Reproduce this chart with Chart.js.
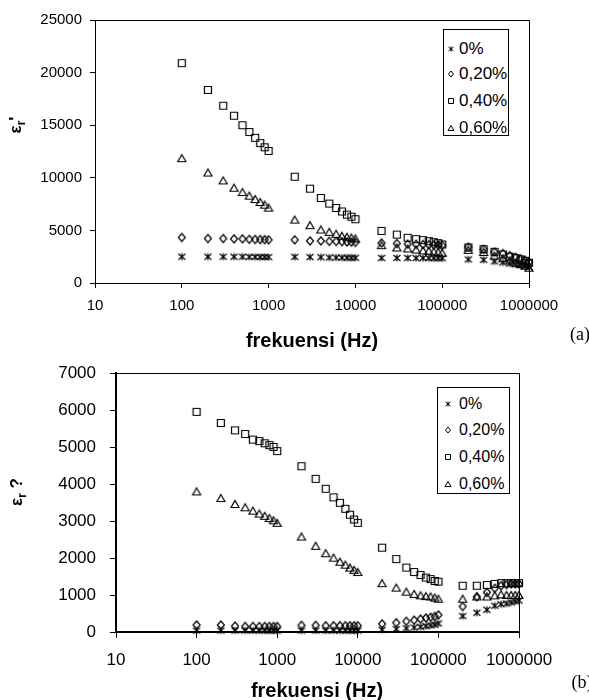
<!DOCTYPE html>
<html><head><meta charset="utf-8">
<script src="https://cdn.jsdelivr.net/npm/chart.js@4.4.1/dist/chart.umd.min.js"></script>
<style>
html,body{margin:0;padding:0;background:#fff;}
body{width:589px;height:700px;position:relative;overflow:hidden;font-family:"Liberation Sans",Arial,sans-serif;color:#000;}
canvas{position:absolute;left:0;}
#ca{top:0;}
#cb{top:350px;}
.t{position:absolute;white-space:nowrap;transform:translate(-50%,-50%);}
.xt{font-weight:bold;font-size:20px;}
.yt{font-weight:bold;font-size:17px;transform:translate(-50%,-50%) rotate(-90deg);}
.tag{font-family:"Liberation Serif","Times New Roman",serif;font-size:18px;}
.leg{position:absolute;border:1px solid #000;background:#fff;box-sizing:border-box;}
.row{position:absolute;left:0;}
</style>
</head><body>
<canvas id="ca" width="589" height="350"></canvas>
<canvas id="cb" width="589" height="350"></canvas>
<div class="t yt" style="left:17px;top:125px">ε<sub style="font-size:12px">r</sub>'</div>
<div class="t yt" style="left:18px;top:492px">ε<sub style="font-size:12px">r</sub> ?</div>
<div class="t xt" style="left:312px;top:340px">frekuensi (Hz)</div>
<div class="t xt" style="left:317px;top:690px">frekuensi (Hz)</div>
<div class="t tag" style="left:580px;top:334px">(a)</div>
<div class="t tag" style="left:582px;top:682px">(b)</div>
<div class="leg" id="la" style="left:443px;top:29px;width:66px;height:107px"></div>
<div class="leg" id="lb" style="left:437px;top:387px;width:73px;height:107px"></div>
<script>
// ---- data ----
const freq = [100,200,300,400,500,600,700,800,900,1000,
  2000,3000,4000,5000,6000,7000,8000,9000,10000,
  20000,30000,40000,50000,60000,70000,80000,90000,100000,
  200000,300000,400000,500000,600000,700000,800000,900000,1000000];
const seriesNames = ['0%','0,20%','0,40%','0,60%'];
const xTicks = [10,100,1000,10000,100000,1000000];
const yTicksA = [0,5000,10000,15000,20000,25000];
const yTicksB = [0,1000,2000,3000,4000,5000,6000,7000];

// (a) epsilon_r'
const a_0 = [2500,2500,2500,2500,2500,2480,2480,2470,2470,2460,
  2480,2460,2450,2420,2420,2410,2410,2400,2400,
  2380,2380,2380,2370,2370,2370,2360,2360,2350,
  2240,2200,2050,1950,1850,1780,1700,1600,1500];
const a_20 = [4330,4230,4230,4200,4200,4150,4140,4130,4120,4110,
  4100,4000,4000,3960,3950,3930,3900,3880,3860,
  3800,3760,3700,3680,3660,3640,3620,3600,3580,
  3420,3200,2950,2800,2600,2450,2300,2150,2000];
const a_40 = [20900,18350,16850,15900,15000,14350,13800,13300,12900,12550,
  10100,8970,8080,7550,7130,6800,6500,6300,6060,
  4950,4600,4300,4170,4070,3980,3880,3790,3660,
  3380,3220,2970,2720,2500,2370,2240,2110,1920];
const a_60 = [11870,10500,9750,9060,8650,8300,7980,7700,7450,7170,
  6030,5500,5080,4860,4670,4480,4390,4320,4230,
  3600,3380,3280,3190,3100,3060,3000,2940,2870,
  3150,2950,2600,2350,2150,1950,1800,1650,1450];

// (b) epsilon_r''
const b_0 = [40,40,40,40,40,40,40,40,40,40,
  40,40,40,40,40,40,40,40,40,
  60,80,100,120,140,160,180,200,230,
  430,520,600,710,750,770,800,830,850];
const b_20 = [190,190,160,150,150,150,150,150,150,150,
  180,180,170,170,170,170,170,170,170,
  220,250,290,320,350,380,400,420,460,
  690,950,1070,1180,1250,1280,1300,1300,1300];
const b_40 = [5950,5650,5450,5350,5200,5160,5100,5050,5000,4890,
  4480,4140,3870,3640,3490,3330,3170,3040,2950,
  2280,1970,1740,1620,1540,1470,1430,1380,1360,
  1250,1250,1270,1300,1320,1320,1320,1320,1320];
const b_60 = [3800,3620,3460,3370,3280,3200,3140,3080,3020,2950,
  2580,2330,2130,2010,1900,1820,1740,1680,1620,
  1320,1200,1090,1030,990,970,960,930,900,
  900,960,960,990,1020,1000,1000,1000,1000];

// ---- marker images ----
function marker(kind, s, lw){
  const n = 12, c = document.createElement('canvas');
  c.width = n; c.height = n;
  const g = c.getContext('2d');
  g.strokeStyle = '#000'; g.lineWidth = lw;
  const m = 6, h = s/2;
  g.beginPath();
  if(kind==='star'){
    g.moveTo(m, m-h); g.lineTo(m, m+h);
    g.moveTo(m-h, m-h+0.5); g.lineTo(m+h, m+h-0.5);
    g.moveTo(m+h, m-h+0.5); g.lineTo(m-h, m+h-0.5);
  } else if(kind==='diamond'){
    g.moveTo(m, m-h-0.5); g.lineTo(m+h, m); g.lineTo(m, m+h+0.5); g.lineTo(m-h, m); g.closePath();
  } else if(kind==='square'){
    g.rect(m-h, m-h, 2*h, 2*h);
  } else {
    g.moveTo(m, m-h); g.lineTo(m+h+0.5, m+h); g.lineTo(m-h-0.5, m+h); g.closePath();
  }
  g.stroke();
  return c;
}
const kinds = ['star','diamond','square','triangle'];
const imgs = kinds.map(k => marker(k, 7, 1.2));

const boxPlugin = {
  id:'box',
  beforeDatasetsDraw(chart){
    const a = chart.chartArea, c = chart.ctx;
    const t = Math.round(a.top)+0.5, r = Math.round(a.right)+0.5;
    c.save(); c.strokeStyle='#000'; c.lineWidth=1;
    c.beginPath(); c.moveTo(a.left, t); c.lineTo(r, t); c.lineTo(r, a.bottom); c.stroke();
    c.restore();
  }
};

function makeChart(id, series, yTicks, cfg){
  const font = {family:'"Liberation Sans", Arial, sans-serif', size: cfg.fs};
  return new Chart(document.getElementById(id), {
    type:'scatter',
    data:{datasets: series.map((d,i)=>({
      label: seriesNames[i],
      data: freq.map((f,j)=>({x:f, y:d[j]})),
      pointStyle: imgs[i], pointRadius: 5, showLine:false, clip:false
    }))},
    options:{
      responsive:false, animation:false, devicePixelRatio:1,
      layout:{padding:{left:0,right:cfg.padR,top:cfg.padT,bottom:cfg.padB}},
      plugins:{legend:{display:false}, tooltip:{enabled:false}},
      scales:{
        x:{type:'logarithmic', position:'bottom', min:10, max:1000000,
          afterBuildTicks: s => { s.ticks = xTicks.map(v=>({value:v})); },
          afterFit: s => { s.height = cfg.xH; s.paddingLeft = 0; s.paddingRight = 0; },
          grid:{drawOnChartArea:false, drawTicks:true, tickLength:cfg.tl, color:'#000', lineWidth:1},
          border:{display:true, color:'#000', width:cfg.axW},
          ticks:{autoSkip:false, maxRotation:0, minRotation:0, padding:cfg.xPad, color:'#000', font, callback: v => String(v)}
        },
        y:{type:'linear', position:'left', min:yTicks[0], max:yTicks[yTicks.length-1],
          afterBuildTicks: s => { s.ticks = yTicks.map(v=>({value:v})); },
          afterFit: s => { s.width = cfg.yW; s.paddingTop = 0; s.paddingBottom = 0; },
          grid:{drawOnChartArea:false, drawTicks:true, tickLength:cfg.tl, color:'#000', lineWidth:1},
          border:{display:true, color:'#000', width:cfg.axW},
          ticks:{autoSkip:false, padding:cfg.yPad, color:'#000', font, callback: v => String(v)}
        }
      }
    },
    plugins:[boxPlugin]
  });
}

makeChart('ca', [a_0,a_20,a_40,a_60], yTicksA,
  {fs:15, padR:60, padT:20, padB:27, xH:40, yW:95, tl:5, axW:1, xPad:9, yPad:8});
makeChart('cb', [b_0,b_20,b_40,b_60], yTicksB,
  {fs:17, padR:70, padT:23, padB:28, xH:40, yW:116, tl:6, axW:2, xPad:12, yPad:14});

// ---- HTML legends ----
function legend(id, rows, markerX, textX, fs){
  const box = document.getElementById(id);
  seriesNames.forEach((name,i)=>{
    const r = document.createElement('div');
    r.className = 'row';
    r.style.top = (rows[i]-10) + 'px';
    r.style.height = '20px';
    r.style.width = '100%';
    const ic = marker(kinds[i], 5, 1);
    ic.style.position = 'absolute';
    ic.style.left = (markerX-6) + 'px';
    ic.style.top = '4px';
    const sp = document.createElement('span');
    sp.textContent = name;
    sp.style.position = 'absolute';
    sp.style.left = textX + 'px';
    sp.style.fontSize = fs + 'px';
    sp.style.lineHeight = '20px';
    sp.style.top = '0px';
    r.appendChild(ic); r.appendChild(sp);
    box.appendChild(r);
  });
}
legend('la', [19,44,71,98], 7, 15, 17);
legend('lb', [16,42,69,96], 10, 21, 16);
</script>
</body></html>
